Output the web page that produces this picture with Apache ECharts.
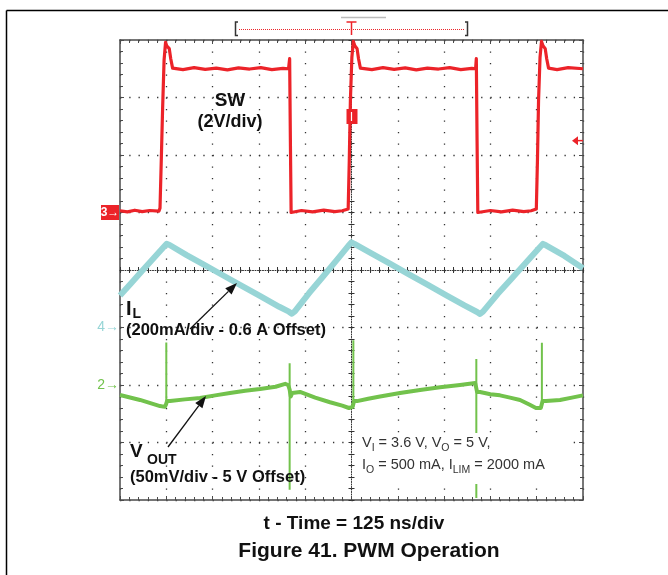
<!DOCTYPE html>
<html>
<head>
<meta charset="utf-8">
<script src="https://cdn.jsdelivr.net/npm/echarts@6/dist/echarts.min.js"></script>
<style>html,body{margin:0;padding:0;background:#fff}#c{width:668px;height:575px}</style>
</head>
<body>
<div id="c"></div>
<script>
// ---------------- data ----------------
// time in ns (125 ns/div, 10 divisions)
const NS_PER_DIV = 125;
// SW node voltage, V (2 V/div, ground marker "3" one division above centre)
const swTime = [0, 20, 40, 60, 80, 105, 108, 111, 115, 119, 123, 126, 133, 137, 142, 170, 200, 230, 260, 290, 320, 350, 380, 410, 440, 455, 458, 459, 460, 462, 466, 490, 520, 550, 580, 600, 616, 619, 622, 626, 630, 634, 640, 644, 649, 680, 710, 740, 770, 800, 830, 860, 890, 920, 950, 960, 962, 963, 964, 966, 970, 1000, 1030, 1060, 1090, 1110, 1124, 1127, 1130, 1134, 1138, 1142, 1148, 1152, 1157, 1180, 1210, 1250];
const swVolt = [0.06, 0.02, 0.08, 0.03, 0.07, 0.05, 0.15, 1.6, 3.6, 5.3, 5.92, 5.8, 5.7, 5.35, 5.02, 4.97, 5.04, 4.98, 5.02, 4.96, 5.03, 4.99, 5.04, 4.97, 5.01, 5.0, 5.35, 5.3, 2.5, 0.0, -0.06, 0.07, 0.02, 0.08, 0.03, 0.06, 0.12, 1.8, 3.9, 5.4, 5.95, 5.8, 5.7, 5.35, 5.02, 4.97, 5.04, 4.98, 5.03, 4.96, 5.02, 4.99, 5.04, 4.97, 5.01, 5.0, 5.35, 5.3, 2.5, 0.0, -0.06, 0.07, 0.02, 0.08, 0.03, 0.06, 0.12, 1.8, 3.9, 5.4, 5.95, 5.8, 5.7, 5.35, 5.02, 4.97, 5.04, 5.0];
// Inductor current, A (200 mA/div, 0.6 A offset at marker "4")
const ilTime = [0, 30, 60, 90, 118, 126, 134, 180, 230, 280, 330, 380, 430, 456, 464, 472, 510, 550, 590, 617, 625, 633, 680, 730, 780, 830, 880, 930, 964, 972, 980, 1020, 1060, 1100, 1134, 1142, 1150, 1200, 1250];
const ilAmp = [0.711, 0.754, 0.797, 0.840, 0.880, 0.891, 0.887, 0.852, 0.816, 0.780, 0.744, 0.708, 0.672, 0.655, 0.648, 0.656, 0.719, 0.780, 0.842, 0.885, 0.896, 0.891, 0.857, 0.821, 0.785, 0.749, 0.713, 0.677, 0.654, 0.647, 0.655, 0.717, 0.774, 0.831, 0.880, 0.891, 0.886, 0.849, 0.806];
// Output voltage, V (50 mV/div, 5 V offset at marker "2") - ripple trace
const voTime = [0, 54, 108, 121, 124, 127, 135, 175, 216, 257, 297, 338, 378, 420, 446, 454, 458, 461, 465, 486, 527, 567, 600, 618, 628, 632, 640, 670, 702, 756, 810, 864, 918, 959, 962, 964, 966, 972, 1000, 1026, 1053, 1080, 1105, 1123, 1136, 1141, 1150, 1188, 1220, 1250];
const voVolt = [4.9913, 4.987, 4.9817, 4.981, 4.983, 4.986, 4.986, 4.9875, 4.9887, 4.991, 4.993, 4.995, 4.9965, 4.9985, 5.001, 5.0, 4.996, 4.99, 4.993, 4.994, 4.989, 4.985, 4.982, 4.980, 4.981, 4.986, 4.986, 4.988, 4.990, 4.993, 4.9957, 4.998, 5.0, 5.0017, 4.997, 4.994, 4.994, 4.9939, 4.992, 4.991, 4.989, 4.987, 4.983, 4.980, 4.980, 4.986, 4.986, 4.987, 4.989, 4.991];
// Output voltage switching spikes (time, lowest and highest value of each spike)
const voSpikeTime = [125, 458, 630, 962, 1139];
const voSpikeLow  = [4.983, 4.909, 4.981, 4.9017, 4.980];
const voSpikeHigh = [5.037, 5.019, 5.039, 5.0226, 5.0368];

// channel scales: value per division, reference value and its division (centre = 0)
const SW_PER_DIV = 2,    SW_REF = 0,   SW_REF_DIV = 1;
const IL_PER_DIV = 0.2,  IL_REF = 0.6, IL_REF_DIV = -1;
const VO_PER_DIV = 0.05, VO_REF = 5,   VO_REF_DIV = -2;
const TRIG_TIME = 625, TRIG_LEVEL = 2.5;

// texts
const TXT_SW = 'SW', TXT_SW_SCALE = '(2V/div)';
const TXT_IL_SCALE = '(200mA/div - 0.6 A Offset)';
const TXT_VO_SCALE = '(50mV/div - 5 V Offset)';
const TXT_TIME = 't - Time = 125 ns/div';
const TXT_TITLE = 'Figure 41. PWM Operation';

// ---------------- chart ----------------
const FONT = '"Liberation Sans", Arial, Helvetica, sans-serif';
const RED = '#ec2329', CYAN = '#97d5d6', GREEN = '#72c24c';
const DOT = '#333';
const BORDER = '#4a4a4a';

function zip(a, b) { return a.map((v, i) => [v, b[i]]); }
function rng(ref, refDiv, perDiv) {
  return { min: +(ref + (-4 - refDiv) * perDiv).toFixed(6), max: +(ref + (4 - refDiv) * perDiv).toFixed(6) };
}
const swR = rng(SW_REF, SW_REF_DIV, SW_PER_DIV);
const ilR = rng(IL_REF, IL_REF_DIV, IL_PER_DIV);
const voR = rng(VO_REF, VO_REF_DIV, VO_PER_DIV);

const spikeData = [];
voSpikeTime.forEach((tt, i) => { spikeData.push([tt, voSpikeLow[i]], [tt, voSpikeHigh[i]], '-'); });

const noLabel = { show: false };
function borderAxis(extra) {
  return Object.assign({
    type: 'value', min: -5, max: 5, interval: 1,
    axisLine: { show: true, onZero: false, lineStyle: { color: BORDER, width: 1.5 } },
    axisTick: { show: true, inside: true, length: 4, lineStyle: { color: BORDER, width: 1 } },
    minorTick: { show: true, splitNumber: 5, length: 3, lineStyle: { color: BORDER, width: 1 } },
    axisLabel: noLabel, splitLine: { show: false }
  }, extra);
}

const option = {
  animation: false,
  backgroundColor: '#fff',
  grid: { left: 120, top: 40, width: 463, height: 460, containLabel: false },
  xAxis: [
    { // 0: centre horizontal line + vertical dotted graticule
      type: 'value', min: -5, max: 5, interval: 1, position: 'bottom',
      axisLine: { show: true, onZero: true, onZeroAxisIndex: 0, lineStyle: { color: DOT, width: 1, type: [1, 1.5] } },
      axisTick: { show: true, inside: false, length: 3, lineStyle: { color: DOT, width: 1 } },
      minorTick: { show: true, splitNumber: 5, length: 3, lineStyle: { color: DOT, width: 1 } },
      axisLabel: noLabel,
      splitLine: { show: true, lineStyle: { color: DOT, width: 1.3, type: [1.3, 10.2] } }
    },
    { // 1: centre ticks on the other side
      type: 'value', min: -5, max: 5, interval: 1, position: 'bottom',
      axisLine: { show: false, onZero: true, onZeroAxisIndex: 0 },
      axisTick: { show: true, inside: true, length: 3, lineStyle: { color: DOT, width: 1 } },
      minorTick: { show: true, splitNumber: 5, length: 3, lineStyle: { color: DOT, width: 1 } },
      axisLabel: noLabel, splitLine: { show: false }
    },
    borderAxis({ // 2: top border, also the time axis of the traces
      min: 0, max: 10 * NS_PER_DIV, interval: NS_PER_DIV, position: 'top'
    }),
    borderAxis({ position: 'bottom' }) // 3: bottom border
  ],
  yAxis: [
    { // 0: centre vertical line + horizontal dotted graticule
      type: 'value', min: -4, max: 4, interval: 1, position: 'left',
      axisLine: { show: true, onZero: true, onZeroAxisIndex: 0, lineStyle: { color: DOT, width: 1, type: [1, 1.5] } },
      axisTick: { show: true, inside: false, length: 3, lineStyle: { color: DOT, width: 1 } },
      minorTick: { show: true, splitNumber: 5, length: 3, lineStyle: { color: DOT, width: 1 } },
      axisLabel: noLabel,
      splitLine: { show: true, lineStyle: { color: DOT, width: 1.3, type: [1.3, 7.96] } }
    },
    { // 1
      type: 'value', min: -4, max: 4, interval: 1, position: 'left',
      axisLine: { show: false, onZero: true, onZeroAxisIndex: 0 },
      axisTick: { show: true, inside: true, length: 3, lineStyle: { color: DOT, width: 1 } },
      minorTick: { show: true, splitNumber: 5, length: 3, lineStyle: { color: DOT, width: 1 } },
      axisLabel: noLabel, splitLine: { show: false }
    },
    borderAxis({ min: -4, max: 4, position: 'left' }),   // 2 left border
    borderAxis({ min: -4, max: 4, position: 'right' }),  // 3 right border
    { type: 'value', show: false, min: swR.min, max: swR.max, axisLine: { onZero: false } }, // 4 SW
    { type: 'value', show: false, min: ilR.min, max: ilR.max, axisLine: { onZero: false } }, // 5 IL
    { type: 'value', show: false, min: voR.min, max: voR.max, axisLine: { onZero: false } }  // 6 VOUT
  ],
  series: [
    { name: 'IL', type: 'line', xAxisIndex: 2, yAxisIndex: 5, data: zip(ilTime, ilAmp), showSymbol: false, z: 3,
      lineStyle: { color: CYAN, width: 6, join: 'round' } },
    { name: 'VOUT', type: 'line', xAxisIndex: 2, yAxisIndex: 6, data: zip(voTime, voVolt), showSymbol: false, z: 4,
      lineStyle: { color: GREEN, width: 4, join: 'round' } },
    { name: 'VOUT spikes', type: 'line', xAxisIndex: 2, yAxisIndex: 6, data: spikeData, showSymbol: false, z: 4,
      connectNulls: false, lineStyle: { color: GREEN, width: 2 } },
    { name: 'SW', type: 'line', xAxisIndex: 2, yAxisIndex: 4, data: zip(swTime, swVolt), showSymbol: false, z: 5,
      lineStyle: { color: RED, width: 3.2, join: 'round' } }
  ]
};

const chart = echarts.init(document.getElementById('c'), null, { renderer: 'canvas' });
chart.setOption(option);

// positions of channel markers through the axes
const ySW = chart.convertToPixel({ yAxisIndex: 4 }, SW_REF);
const yIL = chart.convertToPixel({ yAxisIndex: 5 }, IL_REF);
const yVO = chart.convertToPixel({ yAxisIndex: 6 }, VO_REF);
const yTrig = chart.convertToPixel({ yAxisIndex: 4 }, TRIG_LEVEL);
const xTrig = chart.convertToPixel({ xAxisIndex: 2 }, TRIG_TIME);
const xR = 583;

function t(x, y, text, font, fill, align, z) {
  return { type: 'text', z: z || 50, style: { x: x, y: y, text: text, font: font, fill: fill,
    textAlign: align || 'left', textVerticalAlign: 'middle', verticalAlign: 'middle' } };
}
function ln(x1, y1, x2, y2, stroke, w, dash, z) {
  return { type: 'line', z: z || 50, shape: { x1: x1, y1: y1, x2: x2, y2: y2 },
    style: { stroke: stroke, lineWidth: w || 1, lineDash: dash || null } };
}
function arrow(x1, y1, x2, y2) {
  const dx = x2 - x1, dy = y2 - y1, L = Math.hypot(dx, dy), ux = dx / L, uy = dy / L;
  const bx = x2 - 12 * ux, by = y2 - 12 * uy, nx = -uy, ny = ux;
  return [
    ln(x1, y1, bx, by, '#111', 1.3),
    { type: 'polygon', z: 50, shape: { points: [[x2, y2], [bx + 4.5 * nx, by + 4.5 * ny], [bx - 4.5 * nx, by - 4.5 * ny]] }, style: { fill: '#111' } }
  ];
}
function richLine(x, y, text) {
  return { type: 'text', z: 50, style: {
    x: x, y: y, textAlign: 'left', textVerticalAlign: 'top', verticalAlign: 'top', text: text,
    rich: {
      a: { fontSize: 14.5, fontFamily: FONT, fill: '#333', color: '#333', lineHeight: 19, verticalAlign: 'top' },
      s: { fontSize: 10.5, fontFamily: FONT, fill: '#333', color: '#333', lineHeight: 10, verticalAlign: 'bottom' }
    } } };
}

const B = 'bold ';
const graphics = [
  // outer frame
  ln(6.5, 10.5, 668, 10.5, '#000', 1.5), ln(6.5, 10.5, 6.5, 575, '#000', 1.5),
  // record window bracket + trigger T
  ln(341, 17.5, 386, 17.5, '#bbb', 1.5),
  { type: 'polyline', z: 50, shape: { points: [[238, 22], [235.5, 22], [235.5, 35.5], [238, 35.5]] }, style: { stroke: '#333', lineWidth: 1.5, fill: null } },
  { type: 'polyline', z: 50, shape: { points: [[465, 22], [467.5, 22], [467.5, 35.5], [465, 35.5]] }, style: { stroke: '#333', lineWidth: 1.5, fill: null } },
  ln(239, 29.5, 465, 29.5, RED, 1, [1, 1]),
  ln(xTrig - 5, 22, xTrig + 5, 22, RED, 1.5), ln(xTrig, 22, xTrig, 35, RED, 1.5),
  // trigger position marker and trigger level arrow
  { type: 'rect', z: 50, shape: { x: xTrig - 5, y: 109, width: 11, height: 15 }, style: { fill: RED } },
  ln(xTrig, 112, xTrig, 121, '#fff', 1.2),
  { type: 'polygon', z: 50, shape: { points: [[xR - 11, yTrig], [xR - 5, yTrig - 4.5], [xR - 5, yTrig + 4.5]] }, style: { fill: RED } },
  ln(xR - 5, yTrig, xR, yTrig, RED, 1.5),
  // channel markers
  { type: 'rect', z: 50, shape: { x: 101, y: ySW - 7.5, width: 18, height: 15 }, style: { fill: RED } },
  t(110, ySW, '3\u2192', B + '12px ' + FONT, '#fff', 'center'),
  t(119, yIL, '4\u2192', '14px ' + FONT, CYAN, 'right'),
  t(119, yVO, '2\u2192', '14px ' + FONT, GREEN, 'right'),
  // SW labels
  t(230, 101, TXT_SW, B + '19px ' + FONT, '#111', 'center'),
  t(230, 122.5, TXT_SW_SCALE, B + '18px ' + FONT, '#111', 'center'),
  // IL labels
  t(126, 309, 'I', B + '20px ' + FONT, '#111', 'left'),
  t(132.5, 314, 'L', B + '14px ' + FONT, '#111', 'left'),
  t(126, 330.5, TXT_IL_SCALE, B + '16.5px ' + FONT, '#111', 'left'),
  // VOUT labels
  t(130, 451.5, 'V', B + '19px ' + FONT, '#111', 'left'),
  t(147, 460, 'OUT', B + '14px ' + FONT, '#111', 'left'),
  t(130, 477, TXT_VO_SCALE, B + '16.5px ' + FONT, '#111', 'left'),
  // conditions box
  { type: 'rect', z: 40, shape: { x: 356, y: 433, width: 216, height: 51 }, style: { fill: '#fff' } },
  richLine(362, 435, '{a|V}{s|I}{a| = 3.6 V, V}{s|O}{a| = 5 V,}'),
  richLine(362, 457, '{a|I}{s|O}{a| = 500 mA, I}{s|LIM}{a| = 2000 mA}'),
  // captions
  t(354, 523.5, TXT_TIME, B + '19px ' + FONT, '#111', 'center'),
  t(369, 551, TXT_TITLE, B + '21px ' + FONT, '#111', 'center')
].concat(arrow(190, 329, 237, 283)).concat(arrow(168, 447, 206, 396));

chart.setOption({ graphic: { elements: graphics } });
</script>
</body>
</html>
